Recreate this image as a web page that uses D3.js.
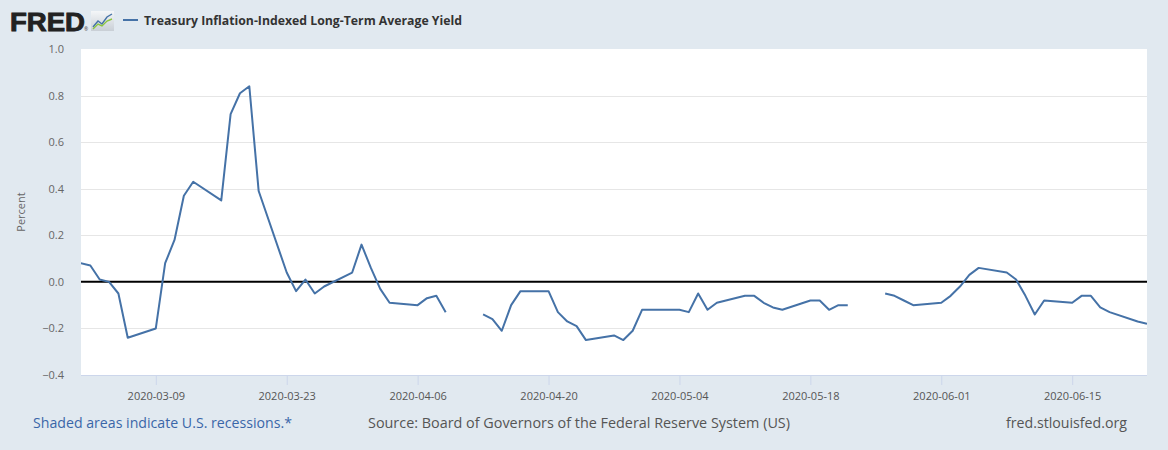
<!DOCTYPE html>
<html>
<head>
<meta charset="utf-8">
<script src="https://cdn.jsdelivr.net/npm/d3@7"></script>
<style>
  html, body { margin: 0; padding: 0; background: #e1e9f0; }
  svg { display: block; }
</style>
</head>
<body>
<script>
// ---- Data ----
const seriesName = "Treasury Inflation-Indexed Long-Term Average Yield";
const dates = [
  "2020-02-28","2020-03-02","2020-03-03","2020-03-04","2020-03-05","2020-03-06",
  "2020-03-09","2020-03-10","2020-03-11","2020-03-12","2020-03-13",
  "2020-03-16","2020-03-17","2020-03-18","2020-03-19","2020-03-20",
  "2020-03-23","2020-03-24","2020-03-25","2020-03-26","2020-03-27",
  "2020-03-30","2020-03-31","2020-04-01","2020-04-02","2020-04-03",
  "2020-04-06","2020-04-07","2020-04-08","2020-04-09","2020-04-10",
  "2020-04-13","2020-04-14","2020-04-15","2020-04-16","2020-04-17",
  "2020-04-20","2020-04-21","2020-04-22","2020-04-23","2020-04-24",
  "2020-04-27","2020-04-28","2020-04-29","2020-04-30","2020-05-01",
  "2020-05-04","2020-05-05","2020-05-06","2020-05-07","2020-05-08",
  "2020-05-11","2020-05-12","2020-05-13","2020-05-14","2020-05-15",
  "2020-05-18","2020-05-19","2020-05-20","2020-05-21","2020-05-22",
  "2020-05-25","2020-05-26","2020-05-27","2020-05-28","2020-05-29",
  "2020-06-01","2020-06-02","2020-06-03","2020-06-04","2020-06-05",
  "2020-06-08","2020-06-09","2020-06-10","2020-06-11","2020-06-12",
  "2020-06-15","2020-06-16","2020-06-17","2020-06-18","2020-06-19",
  "2020-06-22","2020-06-23"
];
const values = [
  0.10, 0.07, 0.01, 0.00, -0.05, -0.24,
  -0.20, 0.08, 0.18, 0.37, 0.43,
  0.35, 0.72, 0.81, 0.84, 0.39,
  0.04, -0.04, 0.01, -0.05, -0.02,
  0.04, 0.16, 0.06, -0.03, -0.09,
  -0.10, -0.07, -0.06, -0.13, null,
  -0.14, -0.16, -0.21, -0.10, -0.04,
  -0.04, -0.13, -0.17, -0.19, -0.25,
  -0.23, -0.25, -0.21, -0.12, -0.12,
  -0.12, -0.13, -0.05, -0.12, -0.09,
  -0.06, -0.06, -0.09, -0.11, -0.12,
  -0.08, -0.08, -0.12, -0.10, -0.10,
  null, -0.05, -0.06, -0.08, -0.10,
  -0.09, -0.06, -0.02, 0.03, 0.06,
  0.04, 0.01, -0.06, -0.14, -0.08,
  -0.09, -0.06, -0.06, -0.11, -0.13,
  -0.17, -0.18
];
const xDomain = ["2020-03-01", "2020-06-23"];
const xTickLabels = ["2020-03-09","2020-03-23","2020-04-06","2020-04-20","2020-05-04","2020-05-18","2020-06-01","2020-06-15"];
const yTicks = [-0.4, -0.2, 0.0, 0.2, 0.4, 0.6, 0.8, 1.0];
const yAxisTitle = "Percent";
const footerLeft = "Shaded areas indicate U.S. recessions.*";
const footerMid = "Source: Board of Governors of the Federal Reserve System (US)";
const footerRight = "fred.stlouisfed.org";

// ---- Layout ----
const W = 1168, H = 450;
const plot = { left: 81, right: 1147, top: 49, bottom: 375 };
const FONT = "'Open Sans', 'DejaVu Sans', sans-serif";

const parse = d3.utcParse("%Y-%m-%d");
const data = dates.map((d, i) => ({ date: parse(d), value: values[i] }));

const x = d3.scaleUtc().domain(xDomain.map(parse)).range([plot.left, plot.right]);
const y = d3.scaleLinear().domain([-0.4, 1.0]).range([plot.bottom, plot.top]);

const svg = d3.select("body").append("svg").attr("width", W).attr("height", H);
svg.append("rect").attr("width", W).attr("height", H).attr("fill", "#e1e9f0");

// plot background
svg.append("rect")
  .attr("x", plot.left).attr("y", plot.top)
  .attr("width", plot.right - plot.left).attr("height", plot.bottom - plot.top)
  .attr("fill", "#ffffff");

// gridlines
svg.append("g").selectAll("line")
  .data(yTicks.filter(t => t !== 0 && t !== -0.4 && t !== 1.0))
  .join("line")
  .attr("x1", plot.left).attr("x2", plot.right)
  .attr("y1", d => Math.round(y(d)) + 0.5).attr("y2", d => Math.round(y(d)) + 0.5)
  .attr("stroke", "#e6e6e6").attr("stroke-width", 1);

// y axis labels
const yAxis = d3.axisLeft(y).tickValues(yTicks).tickFormat(d3.format(".1f")).tickSize(0).tickPadding(0);
const gy = svg.append("g").attr("transform", `translate(${plot.left - 17},0)`).call(yAxis);
gy.select(".domain").remove();
gy.selectAll("text").attr("fill", "#666").style("font-family", FONT).style("font-size", "11px");

// y axis title
svg.append("text")
  .attr("transform", `translate(25,${(plot.top + plot.bottom) / 2}) rotate(-90)`)
  .attr("text-anchor", "middle")
  .attr("fill", "#666").style("font-family", FONT).style("font-size", "11px")
  .text(yAxisTitle);

// x axis
const xAxis = d3.axisBottom(x).tickValues(xTickLabels.map(parse))
  .tickFormat(d3.utcFormat("%Y-%m-%d")).tickSize(10).tickPadding(7);
const gx = svg.append("g").attr("transform", `translate(0,${plot.bottom})`).call(xAxis);
gx.select(".domain").attr("stroke", "#ccd6eb").attr("d", `M${plot.left},0.5H${plot.right}`);
gx.selectAll(".tick line").attr("stroke", "#ccd6eb");
gx.selectAll("text").attr("fill", "#555").style("font-family", FONT).style("font-size", "11px");

// zero line
svg.append("line")
  .attr("x1", plot.left).attr("x2", plot.right)
  .attr("y1", y(0)).attr("y2", y(0))
  .attr("stroke", "#000").attr("stroke-width", 2);

// clip
svg.append("clipPath").attr("id", "clip").append("rect")
  .attr("x", plot.left).attr("y", plot.top)
  .attr("width", plot.right - plot.left).attr("height", plot.bottom - plot.top);

// series line
const line = d3.line()
  .defined(d => d.value !== null)
  .x(d => x(d.date)).y(d => y(d.value));
svg.append("path")
  .datum(data)
  .attr("clip-path", "url(#clip)")
  .attr("fill", "none")
  .attr("stroke", "#4572a7")
  .attr("stroke-width", 2)
  .attr("stroke-linejoin", "round")
  .attr("d", line);

// ---- Header: FRED logo + legend ----
svg.append("text")
  .attr("x", 10).attr("y", 31)
  .attr("fill", "#222").attr("stroke", "#222").attr("stroke-width", 0.9)
  .style("font-family", "'Liberation Sans', Arial, sans-serif")
  .style("font-weight", "bold").style("font-size", "26px")
  .attr("textLength", 75).attr("lengthAdjust", "spacingAndGlyphs")
  .text("FRED");
// small registered mark
svg.append("text").attr("x", 84).attr("y", 31).attr("fill", "#444")
  .style("font-family", FONT).style("font-size", "5px").text("®");
// icon
const icon = svg.append("g").attr("transform", "translate(91,11)");
const grad = svg.append("defs").append("linearGradient").attr("id", "ig")
  .attr("x1", 0).attr("y1", 0).attr("x2", 0).attr("y2", 1);
grad.append("stop").attr("offset", 0).attr("stop-color", "#f4f6f8");
grad.append("stop").attr("offset", 1).attr("stop-color", "#c9cfd6");
icon.append("rect").attr("width", 23).attr("height", 20).attr("fill", "url(#ig)");
icon.append("path").attr("d", "M2,16 L7,10 L11,13 L16,6 L21,3")
  .attr("fill", "none").attr("stroke", "#4572a7").attr("stroke-width", 1.4);
icon.append("path").attr("d", "M2,18 L7,13 L11,15 L16,10 L21,8")
  .attr("fill", "none").attr("stroke", "#8cc63f").attr("stroke-width", 1.4);

svg.append("line").attr("x1", 123).attr("x2", 138).attr("y1", 20).attr("y2", 20)
  .attr("stroke", "#4572a7").attr("stroke-width", 2);
svg.append("text")
  .attr("x", 144).attr("y", 24.5)
  .attr("fill", "#333")
  .style("font-family", FONT).style("font-weight", "bold").style("font-size", "13px")
  .attr("textLength", 318).attr("lengthAdjust", "spacingAndGlyphs")
  .text(seriesName);

// ---- Footer ----
svg.append("text").attr("x", 33).attr("y", 428)
  .attr("fill", "#3a66a8").style("font-family", FONT).style("font-size", "14px")
  .attr("textLength", 259).attr("lengthAdjust", "spacingAndGlyphs")
  .text(footerLeft);
svg.append("text").attr("x", 368).attr("y", 428)
  .attr("fill", "#555").style("font-family", FONT).style("font-size", "14px")
  .attr("textLength", 422).attr("lengthAdjust", "spacingAndGlyphs")
  .text(footerMid);
svg.append("text").attr("x", 1006).attr("y", 428)
  .attr("fill", "#555").style("font-family", FONT).style("font-size", "14px")
  .attr("textLength", 121).attr("lengthAdjust", "spacingAndGlyphs")
  .text(footerRight);
</script>
</body>
</html>
